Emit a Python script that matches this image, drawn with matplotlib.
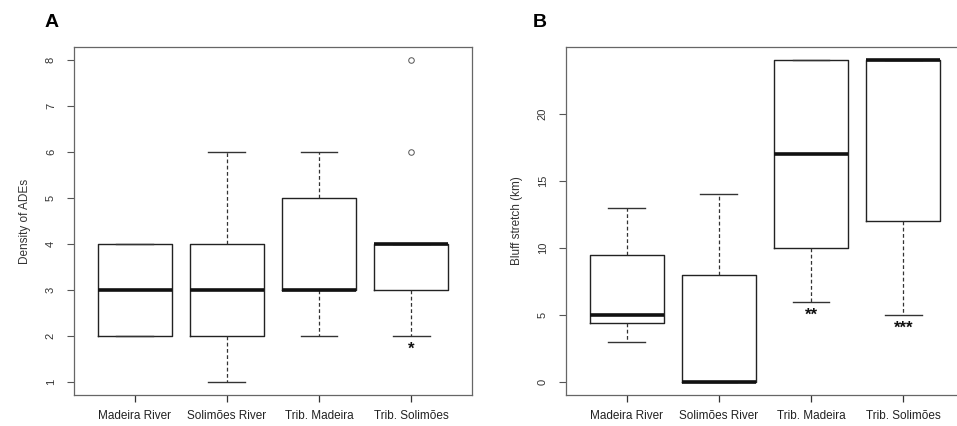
import matplotlib
matplotlib.use("Agg")
import matplotlib.pyplot as plt

plt.rcParams['font.family'] = ['Liberation Sans', 'DejaVu Sans']

groups = ["Madeira River", "Solimões River", "Trib. Madeira", "Trib. Solimões"]

# panel A - density of ADEs (whislo, q1, med, q3, whishi)
ade_whislo = [2, 1, 2, 2]
ade_q1 = [2, 2, 3, 3]
ade_med = [3, 3, 3, 4]
ade_q3 = [4, 4, 5, 4]
ade_whishi = [4, 6, 6, 4]
ade_fliers = [[], [], [], [6, 8]]
ade_signif = ["", "", "", "*"]
ade_signif_y = [0, 0, 0, 1.72]

# panel B - bluff stretch (km)
bluff_whislo = [3, 0, 6, 5]
bluff_q1 = [4.4, 0, 10, 12]
bluff_med = [5, 0, 17, 24]
bluff_q3 = [9.5, 8, 24, 24]
bluff_whishi = [13, 14, 24, 24]
bluff_fliers = [[], [], [], []]
bluff_signif = ["", "", "**", "***"]
bluff_signif_y = [0, 0, 5.0, 4.0]


def make_stats(lo, q1, med, q3, hi, fl):
    return [dict(whislo=a, q1=b, med=c, q3=d, whishi=e, fliers=f, label=g)
            for a, b, c, d, e, f, g in zip(lo, q1, med, q3, hi, fl, groups)]


def r_boxplot(ax, stats, yticks, ylabel, signif, signif_y):
    ax.bxp(stats, positions=range(1, 5), widths=0.8, showfliers=True,
           boxprops=dict(color='#222222', linewidth=1.0),
           medianprops=dict(color='#111111', linewidth=2.6),
           whiskerprops=dict(color='#333333', linewidth=0.9, linestyle=(0, (3, 2))),
           capprops=dict(color='#333333', linewidth=1.0),
           capwidths=0.4,
           flierprops=dict(marker='o', markersize=4, markerfacecolor='none',
                           markeredgecolor='#555555', markeredgewidth=0.7))
    # R style limits: data range padded by 4%
    vals = [s['whislo'] for s in stats] + [s['whishi'] for s in stats]
    for s in stats:
        vals += list(s['fliers'])
    lo, hi = min(vals), max(vals)
    pad = (hi - lo) * 0.04
    ax.set_ylim(lo - pad, hi + pad)
    ax.set_xlim(0.34, 4.66)
    ax.set_yticks(yticks)
    ax.set_yticklabels([str(t) for t in yticks], rotation=90, va='center', fontsize=8, color='#333333')
    ax.set_xticks(range(1, 5))
    ax.set_xticklabels(groups, fontsize=8.5, color='#222222')
    ax.tick_params(axis='x', length=5, width=0.9, pad=6, color='#333333')
    ax.tick_params(axis='y', length=5, width=0.8, pad=8, color='#555555')
    ax.set_ylabel(ylabel, fontsize=8.5, color='#333333', labelpad=11)
    for sp in ax.spines.values():
        sp.set_color('#666666')
        sp.set_linewidth(0.9)
    for x, s, y in zip(range(1, 5), signif, signif_y):
        if s:
            ax.text(x, y, s, ha='center', va='center', fontsize=12, fontweight='bold', color='#111111')


fig = plt.figure(figsize=(9.57, 4.26), dpi=100)
axA = fig.add_axes([0.0773, 0.0728, 0.4159, 0.817])
axB = fig.add_axes([0.5914, 0.0728, 0.4159, 0.817])

r_boxplot(axA, make_stats(ade_whislo, ade_q1, ade_med, ade_q3, ade_whishi, ade_fliers),
          [1, 2, 3, 4, 5, 6, 7, 8], "Density of ADEs", ade_signif, ade_signif_y)
r_boxplot(axB, make_stats(bluff_whislo, bluff_q1, bluff_med, bluff_q3, bluff_whishi, bluff_fliers),
          [0, 5, 10, 15, 20], "Bluff stretch (km)", bluff_signif, bluff_signif_y)

fig.text(0.047, 0.948, "A", fontsize=14, fontweight='bold', ha='left', va='center')
fig.text(0.557, 0.948, "B", fontsize=14, fontweight='bold', ha='left', va='center')

fig.savefig("out.png", dpi=100)
